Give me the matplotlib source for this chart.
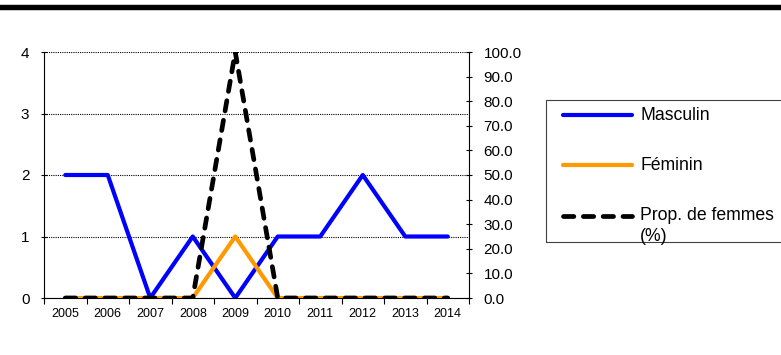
import matplotlib
matplotlib.use("Agg")
import matplotlib.pyplot as plt
from matplotlib.lines import Line2D
from matplotlib.patches import Rectangle

plt.rcParams['font.family'] = ['Liberation Sans', 'DejaVu Sans']

years = ['2005', '2006', '2007', '2008', '2009', '2010', '2011', '2012', '2013', '2014']
masculin = [2, 2, 0, 1, 0, 1, 1, 2, 1, 1]
feminin = [0, 0, 0, 0, 1, 0, 0, 0, 0, 0]
prop_femmes = [0, 0, 0, 0, 100, 0, 0, 0, 0, 0]
labels = ['Masculin', 'Féminin', 'Prop. de femmes', '(%)']

DASH = (0, (2.2, 2.0))

fig = plt.figure(figsize=(7.81, 3.55), dpi=100)
ax = fig.add_axes([44/781, 1-298/355, (469-44)/781, (298-52)/355])
x = list(range(len(years)))

ax.plot(x, masculin, color='#0000FF', lw=3, solid_capstyle='round', zorder=3)
ax.plot(x, feminin, color='#FF9900', lw=3, solid_capstyle='round', zorder=3)
ax.set_xlim(-0.5, len(years)-0.5)
ax.set_ylim(0, 4)
ax.set_yticks([0, 1, 2, 3, 4])
ax.set_xticks(x)
ax.set_xticklabels(years, fontsize=9)
ax.set_xticks([i - 0.5 for i in range(len(years)+1)], minor=True)
ax.tick_params(axis='x', which='major', length=0, pad=7)
ax.tick_params(axis='x', which='minor', length=4, width=0.8, direction='out')
ax.tick_params(axis='y', labelsize=11, length=5, width=0.8, direction='inout', pad=8)
ax.yaxis.grid(True, linestyle=(0, (1, 1)), color='black', lw=0.8)
ax.set_axisbelow(True)
ax.spines['top'].set_visible(False)
ax.spines['right'].set_visible(False)
ax.spines['left'].set_linewidth(0.8)
ax.spines['bottom'].set_linewidth(0.8)

ax2 = ax.twinx()
ax2.plot(x, prop_femmes, color='black', lw=3.4, linestyle=DASH,
         dash_capstyle='round', zorder=4)
ax2.set_ylim(0, 100)
ax2.set_yticks(range(0, 101, 10))
ax2.set_yticklabels([f'{v:.1f}' for v in range(0, 101, 10)])
ax2.tick_params(axis='y', labelsize=11, length=5, width=0.8, direction='inout', pad=8)
ax2.spines['top'].set_visible(False)
ax2.spines['left'].set_visible(False)
ax2.spines['bottom'].set_visible(False)
ax2.spines['right'].set_linewidth(0.8)

# top thick bar
fig.add_artist(Line2D([0, 1], [1-7.4/355, 1-7.4/355], color='black', lw=3.9,
                      transform=fig.transFigure))

# legend
fig.add_artist(Rectangle((546/781, 1-242/355), 0.5, 142/355, transform=fig.transFigure,
                         fill=False, edgecolor='#404040', lw=0.8))
line_y = [115, 165, 216]
styles = [dict(color='#0000FF', lw=3, solid_capstyle='round'),
          dict(color='#FF9900', lw=3, solid_capstyle='round'),
          dict(color='black', lw=3.4, linestyle=DASH, dash_capstyle='round')]
for yy, st in zip(line_y, styles):
    fig.add_artist(Line2D([563/781, 632/781], [1-yy/355, 1-yy/355],
                          transform=fig.transFigure, **st))
text_baselines = [120, 170, 220, 241]
for yb, lab in zip(text_baselines, labels):
    fig.text(640/781, 1-yb/355, lab, fontsize=12.7, va='baseline', ha='left')

fig.savefig('out.png', dpi=100)
